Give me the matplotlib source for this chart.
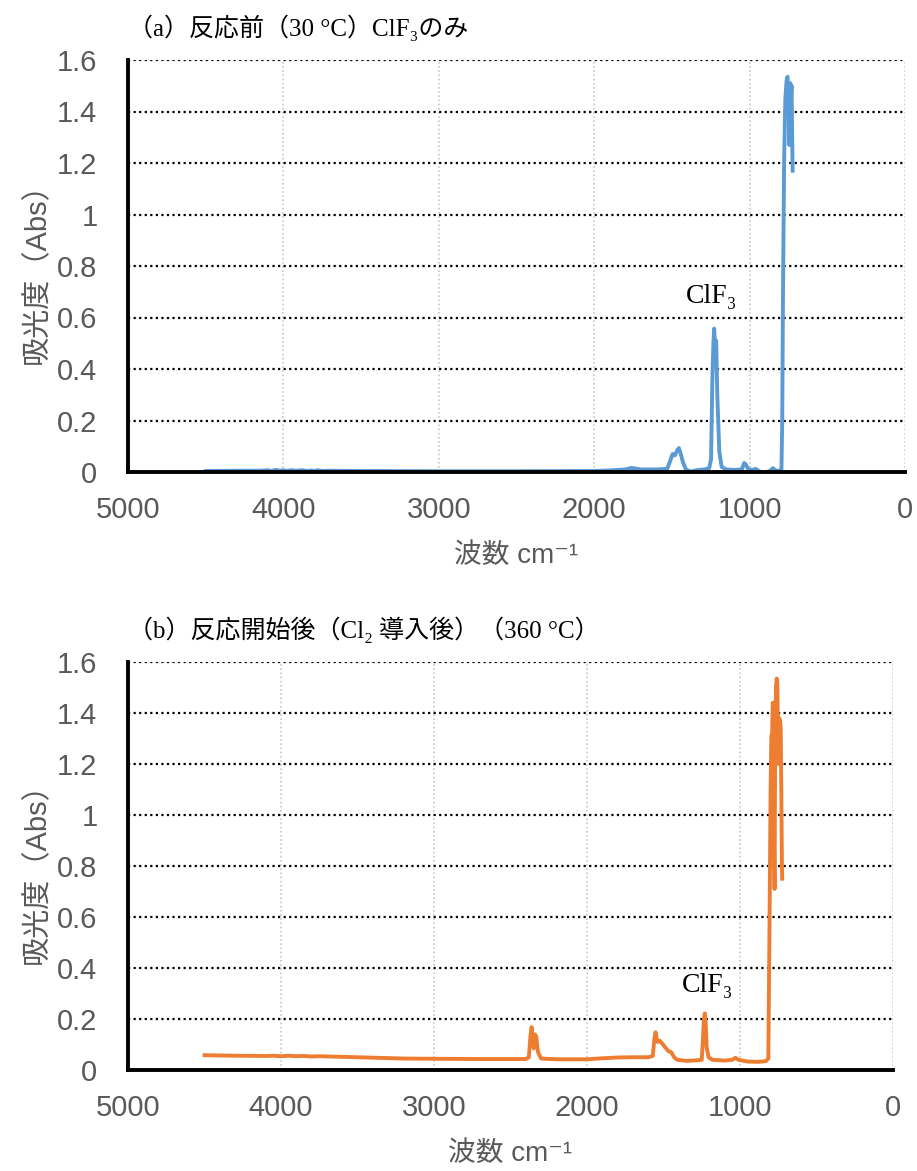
import matplotlib
matplotlib.use("Agg")
import matplotlib.pyplot as plt

# spectrum (a): before reaction, 30 C, ClF3 only
wn_a = [4500, 4300, 4150, 4100, 4080, 4050, 4020, 4000, 3980, 3950, 3920, 3880,
        3850, 3820, 3800, 3780, 3750, 3700, 3500, 3000, 2500, 2000, 1900, 1800,
        1760, 1740, 1700, 1600, 1530, 1510, 1495, 1480, 1465, 1455, 1445, 1430,
        1410, 1380, 1330, 1290, 1260, 1248, 1240, 1233, 1228, 1222, 1215, 1208,
        1195, 1180, 1150, 1100, 1050, 1035, 1025, 1010, 985, 960, 930, 900, 870,
        850, 835, 810, 795, 790, 785, 778, 770, 762, 756, 752, 748, 745, 742,
        738, 734, 730, 726, 723]
abs_a = [0.004, 0.005, 0.005, 0.007, 0.004, 0.008, 0.005, 0.007, 0.004, 0.007, 0.005, 0.007,
         0.004, 0.006, 0.004, 0.007, 0.004, 0.005, 0.004, 0.003, 0.003, 0.004, 0.006, 0.010,
         0.016, 0.014, 0.010, 0.010, 0.012, 0.045, 0.070, 0.065, 0.085, 0.093, 0.075, 0.040,
         0.010, 0.002, 0.008, 0.010, 0.015, 0.050, 0.350, 0.500, 0.557, 0.490, 0.510, 0.300,
         0.080, 0.020, 0.010, 0.008, 0.010, 0.035, 0.030, 0.012, 0.008, 0.012, 0.000, -0.003, 0.004,
         0.015, 0.006, 0.005, 0.010, 0.200, 0.700, 1.200, 1.450, 1.520, 1.535, 1.480, 1.500, 1.270, 1.500,
         1.510, 1.450, 1.500, 1.300, 1.170]

# spectrum (b): after reaction start (Cl2 introduced), 360 C
wn_b = [4500, 4300, 4100, 4050, 4000, 3950, 3900, 3850, 3800, 3750, 3500, 3200,
        3000, 2700, 2400, 2380, 2370, 2362, 2355, 2348, 2340, 2332, 2320, 2300,
        2200, 2000, 1900, 1800, 1700, 1600, 1570, 1560, 1552, 1540, 1525, 1510,
        1490, 1470, 1450, 1430, 1410, 1350, 1280, 1250, 1242, 1236, 1230, 1224,
        1218, 1205, 1180, 1100, 1050, 1030, 1010, 950, 880, 830, 815, 808, 800,
        795, 790, 786, 782, 778, 774, 770, 765, 760, 756, 752, 748, 744, 738,
        734, 730, 726, 724]
abs_b = [0.058, 0.056, 0.055, 0.056, 0.054, 0.056, 0.054, 0.055, 0.053, 0.054, 0.050, 0.045,
         0.044, 0.043, 0.043, 0.050, 0.130, 0.168, 0.120, 0.085, 0.140, 0.130, 0.070, 0.045,
         0.042, 0.042, 0.046, 0.049, 0.050, 0.050, 0.055, 0.120, 0.148, 0.110, 0.115, 0.105,
         0.090, 0.075, 0.070, 0.050, 0.040, 0.036, 0.038, 0.040, 0.120, 0.200, 0.222, 0.180,
         0.090, 0.050, 0.040, 0.037, 0.040, 0.048, 0.040, 0.033, 0.032, 0.035, 0.045, 0.500, 1.100,
         1.310, 1.320, 1.440, 1.430, 0.900, 0.710, 1.300, 1.500, 1.535, 1.520, 1.300, 1.200, 1.380, 1.370,
         1.340, 1.100, 0.800, 0.750]

yticks = [0, 0.2, 0.4, 0.6, 0.8, 1, 1.2, 1.4, 1.6]
ytick_labels = ["0", "0.2", "0.4", "0.6", "0.8", "1", "1.2", "1.4", "1.6"]
xticks = [5000, 4000, 3000, 2000, 1000, 0]

title_a = "（a）反応前（30 °C）ClF₃のみ"
title_b = "（b）反応開始後（Cl₂ 導入後）（360 °C）"
ylabel = "吸光度（Abs）"
xlabel = "波数 cm⁻¹"

sans = ["Liberation Sans", "Noto Sans CJK JP", "DejaVu Sans"]
serif = ["Liberation Serif", "Noto Sans CJK JP", "DejaVu Serif"]
grey = "#595959"

W, H = 917, 1171
fig = plt.figure(figsize=(W / 100, H / 100), dpi=100)


def panel(box, wn, ab, color, title, title_y, note_xy):
    ax = fig.add_axes([box[0] / W, 1 - box[3] / H, (box[2] - box[0]) / W, (box[3] - box[1]) / H])
    for y in yticks[1:]:
        ax.axhline(y, color="black", lw=1.6, ls=(0, (1, 1.5)), zorder=1)
    for x in xticks[1:]:
        ax.axvline(x, color="#C8C8C8", lw=1.2, ls=(0, (1, 1.5)), zorder=0)
    ax.plot(wn, ab, color=color, lw=2.8, zorder=3, solid_joinstyle="round")
    ax.set_xlim(5000, 0)
    ax.set_ylim(0, 1.6)
    ax.set_yticks(yticks)
    ax.set_yticklabels(ytick_labels)
    ax.set_xticks(xticks)
    ax.tick_params(length=0, labelsize=21, labelcolor=grey)
    ax.tick_params(axis="y", pad=22)
    ax.tick_params(axis="x", pad=17)
    for lab in ax.get_xticklabels() + ax.get_yticklabels():
        lab.set_family(sans)
    for s in ["top", "right"]:
        ax.spines[s].set_visible(False)
    for s in ["left", "bottom"]:
        ax.spines[s].set_linewidth(2.8)
        ax.spines[s].set_color("black")
        ax.spines[s].set_zorder(4)
    ax.set_ylabel(ylabel, family=sans, fontsize=21, color=grey, labelpad=4)
    ax.set_xlabel(xlabel, family=sans, fontsize=20, color=grey, labelpad=14)
    ax.text(note_xy[0], note_xy[1], "ClF₃", family=serif, fontsize=20, ha="center", va="center")
    fig.text(128 / W, 1 - title_y / H, title, family=serif, fontsize=18, ha="left", va="center")
    return ax


panel((128, 60, 905, 472), wn_a, abs_a, "#5B9BD5", title_a, 28, (1245, 0.68))
panel((128, 662, 893, 1070), wn_b, abs_b, "#ED7D31", title_b, 630, (1210, 0.33))

fig.savefig("out.png", dpi=100)
